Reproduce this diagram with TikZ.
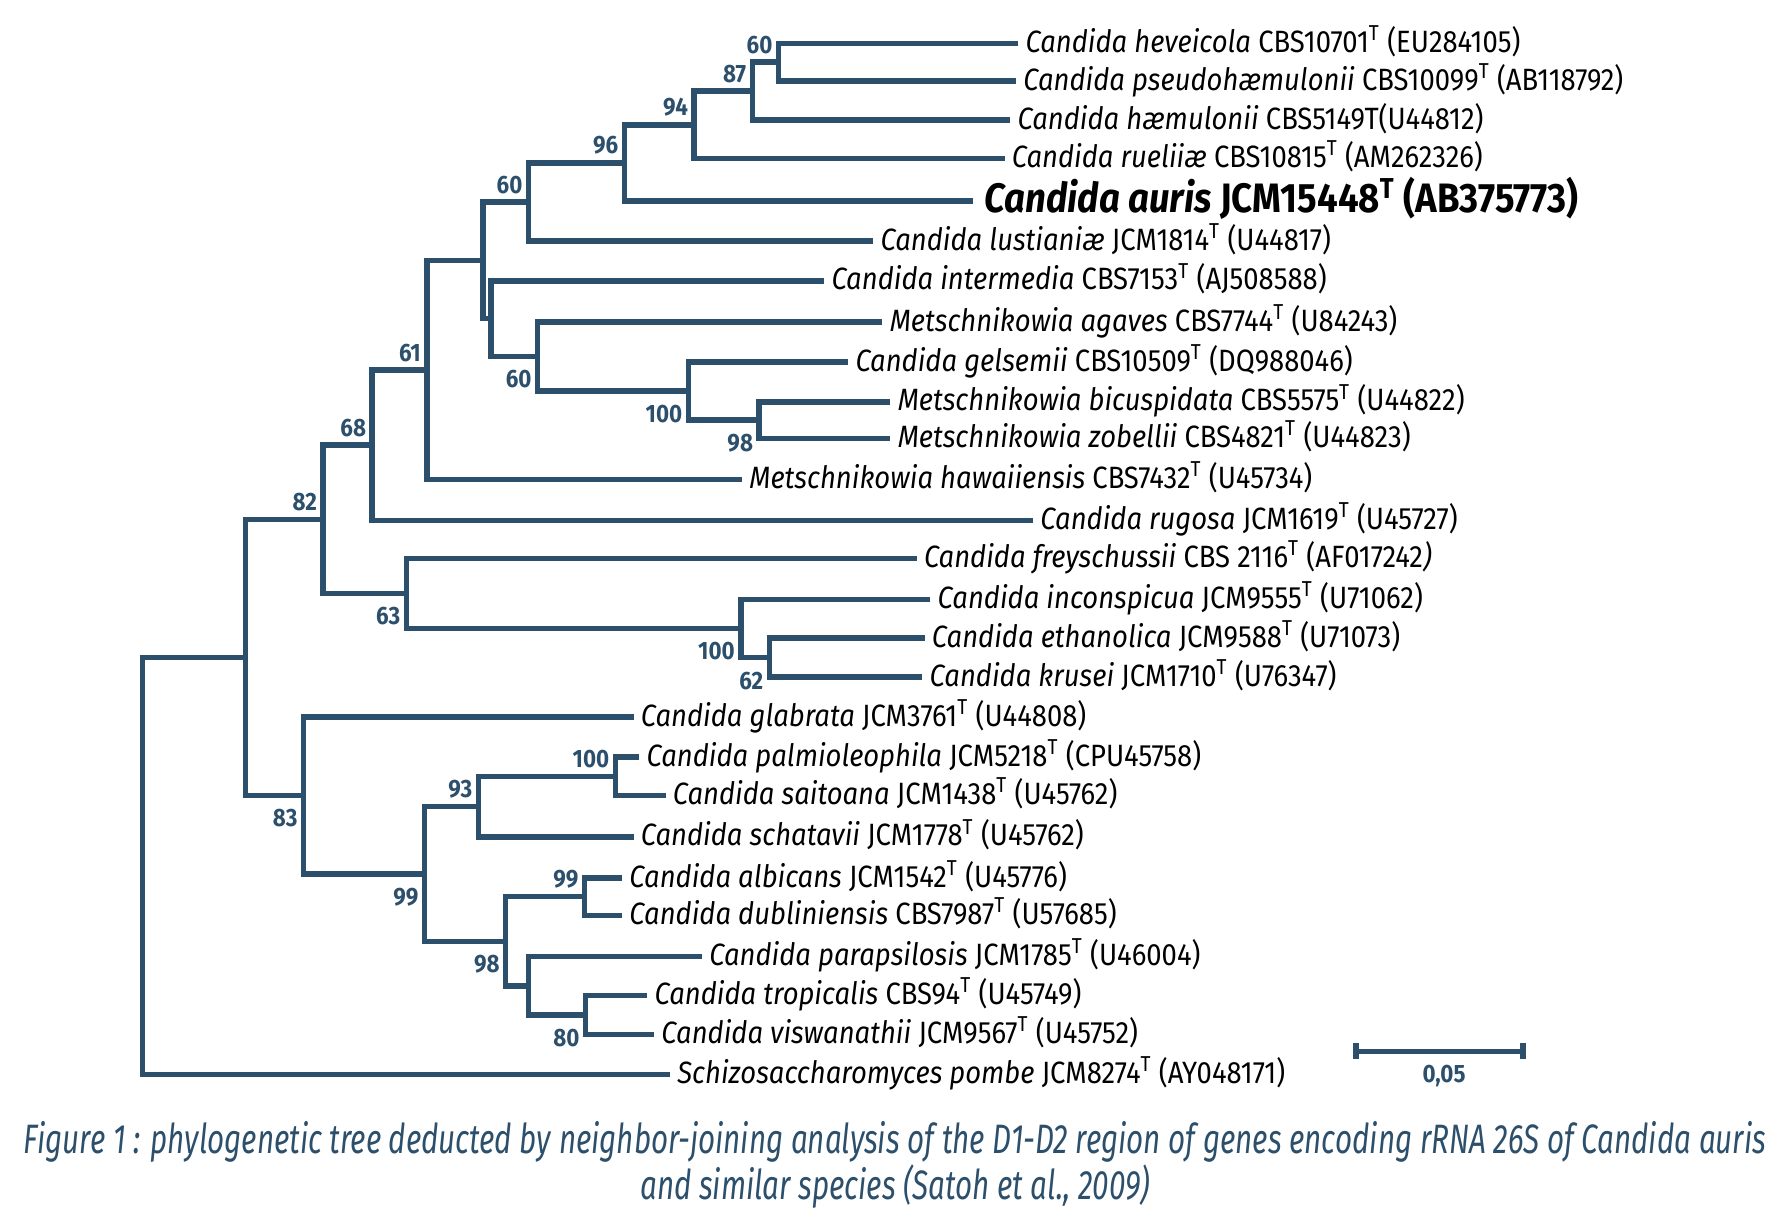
\documentclass[tikz,border=0pt]{standalone}
\usepackage{fontspec}
\setmainfont{Fira Sans}[FakeStretch=0.89]
\newfontfamily\capfont{Fira Sans}[FakeStretch=0.72]
\definecolor{treeblue}{HTML}{2C4F6C}
\newcommand{\typ}{\textsuperscript{T}}
\begin{document}
\begin{tikzpicture}[x=0.5pt,y=-0.5pt,
	br/.style={draw=treeblue,line width=2.4pt},
	leaf/.style={anchor=west,inner sep=3pt,text height=10pt,text depth=2pt,font=\fontsize{13.5}{15}\selectfont},
	bsup/.style={anchor=south east,inner sep=0pt,xshift=-2.5pt,yshift=3.5pt,text=treeblue,font=\fontsize{11}{12}\selectfont\bfseries},
	bsdown/.style={anchor=north east,inner sep=0pt,xshift=-2.5pt,yshift=-6pt,text=treeblue,font=\fontsize{11}{12}\selectfont\bfseries}]
	\useasboundingbox (0,0) rectangle (1568,1067);
	% leaves
	\node[leaf] (hev) at (892,38) {\textit{Candida heveicola} CBS10701\typ{} (EU284105)};
	\node[leaf] (pse) at (890,71) {\textit{Candida pseudohæmulonii} CBS10099\typ{} (AB118792)};
	\node[leaf] (hae) at (885,105) {\textit{Candida hæmulonii} CBS5149T(U44812)};
	\node[leaf] (rue) at (880,139) {\textit{Candida rueliiæ} CBS10815\typ{} (AM262326)};
	\node[leaf,text height=13pt,text depth=3pt,inner sep=5pt,font=\fontsize{18}{20}\selectfont\bfseries] (aur) at (852,176) {\textit{Candida auris} JCM15448\typ{} (AB375773)};
	\node[leaf] (lus) at (765,211) {\textit{Candida lustianiæ} JCM1814\typ{} (U44817)};
	\node[leaf] (int) at (722,246) {\textit{Candida intermedia} CBS7153\typ{} (AJ508588)};
	\node[leaf] (aga) at (773,282) {\textit{Metschnikowia agaves} CBS7744\typ{} (U84243)};
	\node[leaf] (gel) at (743,317) {\textit{Candida gelsemii} CBS10509\typ{} (DQ988046)};
	\node[leaf] (bic) at (780,352) {\textit{Metschnikowia bicuspidata} CBS5575\typ{} (U44822)};
	\node[leaf] (zob) at (780,384) {\textit{Metschnikowia zobellii} CBS4821\typ{} (U44823)};
	\node[leaf] (haw) at (650,420) {\textit{Metschnikowia hawaiiensis} CBS7432\typ{} (U45734)};
	\node[leaf] (rug) at (905,456) {\textit{Candida rugosa} JCM1619\typ{} (U45727)};
	\node[leaf] (fre) at (803,489) {\textit{Candida freyschussii} CBS 2116\typ{} (AF017242\textit{)}};
	\node[leaf] (inc) at (815,525) {\textit{Candida inconspicua} JCM9555\typ{} (U71062)};
	\node[leaf] (eth) at (810,559) {\textit{Candida ethanolica} JCM9588\typ{} (U71073)};
	\node[leaf] (kru) at (808,593) {\textit{Candida krusei} JCM1710\typ{} (U76347)};
	\node[leaf] (gla) at (555,628) {\textit{Candida glabrata} JCM3761\typ{} (U44808)};
	\node[leaf] (pal) at (560,663) {\textit{Candida palmioleophila} JCM5218\typ{} (CPU45758)};
	\node[leaf] (sai) at (583,697) {\textit{Candida saitoana} JCM1438\typ{} (U45762)};
	\node[leaf] (sch) at (555,733) {\textit{Candida schatavii} JCM1778\typ{} (U45762)};
	\node[leaf] (alb) at (545,769) {\textit{Candida albicans} JCM1542\typ{} (U45776)};
	\node[leaf] (dub) at (545,802) {\textit{Candida dubliniensis} CBS7987\typ{} (U57685)};
	\node[leaf] (par) at (615,838) {\textit{Candida parapsilosis} JCM1785\typ{} (U46004)};
	\node[leaf] (tro) at (567,872) {\textit{Candida tropicalis} CBS94\typ{} (U45749)};
	\node[leaf] (vis) at (573,906) {\textit{Candida viswanathii} JCM9567\typ{} (U45752)};
	\node[leaf] (pom) at (587,941) {\textit{Schizosaccharomyces pombe} JCM8274\typ{} (AY048171)};
	% inner nodes
	\coordinate (c60a) at (682,54.5);
	\coordinate (c87) at (659,79.75);
	\coordinate (c94) at (608,109.4);
	\coordinate (c96) at (547,142.7);
	\coordinate (c60b) at (463,176.9);
	\coordinate (c98a) at (665,368);
	\coordinate (c100a) at (603,342.5);
	\coordinate (c60c) at (471,312.25);
	\coordinate (cint) at (430,279.1);
	\coordinate (cmet) at (423,228);
	\coordinate (c61) at (374,324);
	\coordinate (c68) at (326,390);
	\coordinate (c62) at (674,576);
	\coordinate (c100b) at (649,550.5);
	\coordinate (c63) at (356,519.75);
	\coordinate (c82) at (283,454.9);
	\coordinate (c100c) at (539,680);
	\coordinate (c93) at (419,706.5);
	\coordinate (c99a) at (512,785.5);
	\coordinate (c80) at (513,889);
	\coordinate (cpar) at (463,863.5);
	\coordinate (c98b) at (443,824.5);
	\coordinate (c99b) at (372,765.5);
	\coordinate (c83) at (266,696.75);
	\coordinate (cin) at (215,575.8);
	\coordinate (root) at (125,758.4);
	% branches
	\draw[br] (hev.west) -| (c60a) |- (pse.west);
	\draw[br] (c60a) -| (c87) |- (hae.west);
	\draw[br] (c87) -| (c94) |- (rue.west);
	\draw[br] (c94) -| (c96) |- (aur.west);
	\draw[br] (c96) -| (c60b) |- (lus.west);
	\draw[br] (bic.west) -| (c98a) |- (zob.west);
	\draw[br] (gel.west) -| (c100a) |- (c98a);
	\draw[br] (aga.west) -| (c60c) |- (c100a);
	\draw[br] (int.west) -| (cint) |- (c60c);
	\draw[br] (c60b) -| (cmet) |- (cint);
	\draw[br] (cmet) -| (c61) |- (haw.west);
	\draw[br] (c61) -| (c68) |- (rug.west);
	\draw[br] (eth.west) -| (c62) |- (kru.west);
	\draw[br] (inc.west) -| (c100b) |- (c62);
	\draw[br] (fre.west) -| (c63) |- (c100b);
	\draw[br] (c68) -| (c82) |- (c63);
	\draw[br] (pal.west) -| (c100c) |- (sai.west);
	\draw[br] (c100c) -| (c93) |- (sch.west);
	\draw[br] (alb.west) -| (c99a) |- (dub.west);
	\draw[br] (tro.west) -| (c80) |- (vis.west);
	\draw[br] (par.west) -| (cpar) |- (c80);
	\draw[br] (c99a) -| (c98b) |- (cpar);
	\draw[br] (c93) -| (c99b) |- (c98b);
	\draw[br] (gla.west) -| (c83) |- (c99b);
	\draw[br] (c82) -| (cin) |- (c83);
	\draw[br] (cin) -| (root) |- (pom.west);
	% bootstrap values
	\node[bsup] at (c60a) {60};
	\node[bsup] at (c87) {87};
	\node[bsup] at (c94) {94};
	\node[bsup] at (c96) {96};
	\node[bsup] at (c60b) {60};
	\node[bsdown] at (c60c) {60};
	\node[bsdown] at (c100a) {100};
	\node[bsdown] at (c98a) {98};
	\node[bsup] at (c61) {61};
	\node[bsup] at (c68) {68};
	\node[bsup] at (c82) {82};
	\node[bsdown] at (c63) {63};
	\node[bsdown] at (c100b) {100};
	\node[bsdown] at (c62) {62};
	\node[bsdown] at (c83) {83};
	\node[bsdown] at (c99b) {99};
	\node[bsup] at (c93) {93};
	\node[bsup] at (c100c) {100};
	\node[bsup] at (c99a) {99};
	\node[bsdown] at (c98b) {98};
	\node[bsdown] at (c80) {80};
	% scale bar
	\coordinate (sbl) at (1188,921);
	\coordinate (sbr) at (1334,921);
	\draw[br] (sbl) -- (sbr);
	\draw[br] ([yshift=3.5pt]sbl) -- ([yshift=-3.5pt]sbl);
	\draw[br] ([yshift=3.5pt]sbr) -- ([yshift=-3.5pt]sbr);
	\node[text=treeblue,font=\fontsize{11}{12}\selectfont\bfseries] (sbt) at (1265,943) {0,05};
	% caption
	\node[align=center,text=treeblue,font=\capfont\itshape\fontsize{18}{18}\selectfont] (cap) at (784,1020)
		{Figure 1 : phylogenetic tree deducted by neighbor-joining analysis of the D1-D2 region of genes encoding rRNA 26S of Candida auris\\
		and similar species (Satoh et al., 2009)};
\end{tikzpicture}
\end{document}
